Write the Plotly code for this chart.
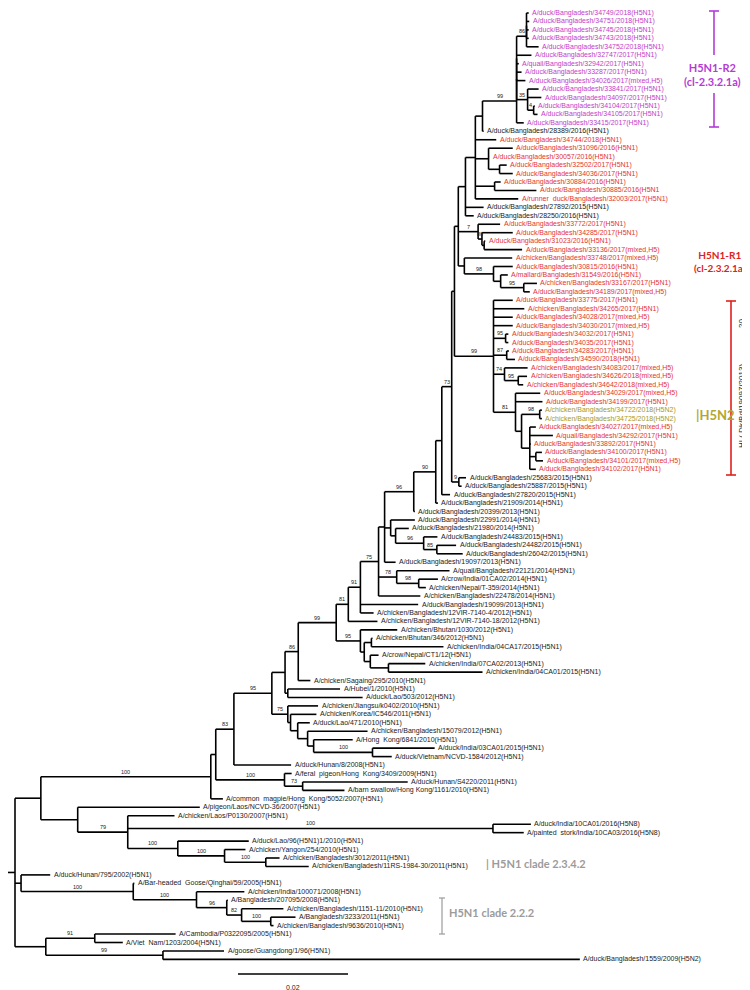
import plotly.graph_objects as go

# ---------------- data ----------------
BRANCH_UNIT = 1e-4  # Newick branch lengths below are in 1e-4 substitutions/site
SCALE_BAR = 0.02

# H5N1-R2 clade
N4 = "(t0:4,t1:5,t2:4,t3:4):0"
N518 = "(" + N4 + ",t4:22)86:18"
NTOP = "(" + N518 + ",t5:27,t6:4,t7:9,t8:16):0"
N519 = "(t9:20,t10:25,(t11:2,t12:7)4:11)35:20"
N508 = "((" + NTOP + "," + N519 + "):0,t13:13)99:62"
# H5N1-R1 upper part
N467 = "((" + N508 + ",t14:2):13,t15:38,(t16:44,t17:1,(t18:13,t19:24):20):24,(t20:11,t21:76):35,t22:78):18"
N457 = "(" + N467 + ",t23:33,t24:15):13"
N468 = "(t25:40,(t26:56,(t27:2,t28:69):4)80:7)7:36"
N456 = "(t29:87,(t30:35,(t31:13,(t32:24,t33:11)95:42):13)98:53):11"
N450 = "(" + N457 + "," + N468 + "," + N456 + "):7"
# H5N1-R1 lower part (incl. H5N2 reassortants)
H5N2 = ("(t34:35,t35:56,t36:35,t37:35,(t38:5,t39:5)95:22,(t40:4,t41:15)87:24,(t42:42,(t43:16,t44:9)95:25)74:20,"
        "(t45:45,t46:49,((t47:4,t48:4)98:33,(t49:11,t50:42,t51:2,(t52:11,t53:13):11,t54:11):15):11)81:40)99:71")
N445 = "(" + N450 + "," + H5N2 + "):5"
N446 = "(" + N445 + ",(t55:13,t56:5)9:13)73:18"
N433 = "(" + N446 + ",t57:15):11"
N427 = "(" + N433 + ",t58:4)90:40"
N405 = "(" + N427 + ",t59:2)96:53"
N376 = "(" + N405 + ",(t60:44,(t61:24,(t62:25,(t63:35,t64:47)85:24)96:51):9):11,t65:20):11"
N370 = "(" + N376 + ",(t66:96,(t67:35,t68:13)98:40)78:33,t69:76)75:33"
N352 = "(" + N370 + ",t70:105,t71:24)91:22"
N340 = "(" + N352 + ",t72:53)81:22"
BHUTAN = "(t73:67,((t74:2,t75:131):13,(t76:15,(t77:67,t78:171):33):11):7)95:44"
N290 = "((" + N340 + "," + BHUTAN + ")99:69,t79:22)86:24"
N277 = "(" + N290 + ",(t80:95,t81:136):5):24"
N280 = "(t82:55,(t83:47,(t84:22,(t85:109,(t86:71,(t87:113,t88:35)100:107):11):18):13):5)75:29"
N226 = "((" + N277 + "," + N280 + ")95:69,t89:104)83:33"
N277F = "(t90:13,(t91:191,t92:76)73:33)100:125"
N203 = "((" + N226 + "," + N277F + "):9,t93:22)100:309"
N70 = "(t94:222,(t95:85,(t96:69,t97:56)100:664,(t98:129,(t99:38,(t100:25,t101:78)100:75)100:85)100:91)79:91):67"
N13 = "(t102:53,(t103:2,(t104:87,(t105:2,(t106:76,(t107:45,t108:5)100:53)82:27)96:55)100:115)100:204):11"
N38 = "((t109:147,t110:51)91:89,(t111:111,t112:758)99:213):56"
NEWICK = "((" + N203 + "," + N70 + "):47," + N13 + "," + N38 + "):13;"

LEAF_NAMES = [
    "A/duck/Bangladesh/34749/2018(H5N1)", "A/duck/Bangladesh/34751/2018(H5N1)",
    "A/duck/Bangladesh/34745/2018(H5N1)", "A/duck/Bangladesh/34743/2018(H5N1)",
    "A/duck/Bangladesh/34752/2018(H5N1)", "A/duck/Bangladesh/32747/2017(H5N1)",
    "A/quail/Bangladesh/32942/2017(H5N1)", "A/duck/Bangladesh/33287/2017(H5N1)",
    "A/duck/Bangladesh/34026/2017(mixed,H5)", "A/duck/Bangladesh/33841/2017(H5N1)",
    "A/duck/Bangladesh/34097/2017(H5N1)", "A/duck/Bangladesh/34104/2017(H5N1)",
    "A/duck/Bangladesh/34105/2017(H5N1)", "A/duck/Bangladesh/33415/2017(H5N1)",
    "A/duck/Bangladesh/28389/2016(H5N1)", "A/duck/Bangladesh/34744/2018(H5N1)",
    "A/duck/Bangladesh/31096/2016(H5N1)", "A/duck/Bangladesh/30057/2016(H5N1)",
    "A/duck/Bangladesh/32502/2017(H5N1)", "A/duck/Bangladesh/34036/2017(H5N1)",
    "A/duck/Bangladesh/30884/2016(H5N1)", "A/duck/Bangladesh/30885/2016(H5N1",
    "A/runner  duck/Bangladesh/32003/2017(H5N1)", "A/duck/Bangladesh/27892/2015(H5N1)",
    "A/duck/Bangladesh/28250/2016(H5N1)", "A/duck/Bangladesh/33772/2017(H5N1)",
    "A/duck/Bangladesh/34285/2017(H5N1)", "A/duck/Bangladesh/31023/2016(H5N1)",
    "A/duck/Bangladesh/33136/2017(mixed,H5)", "A/chicken/Bangladesh/33748/2017(mixed,H5)",
    "A/duck/Bangladesh/30815/2016(H5N1)", "A/mallard/Bangladesh/31549/2016(H5N1)",
    "A/chicken/Bangladesh/33167/2017(H5N1)", "A/duck/Bangladesh/34189/2017(mixed,H5)",
    "A/duck/Bangladesh/33775/2017(H5N1)", "A/chicken/Bangladesh/34265/2017(H5N1)",
    "A/duck/Bangladesh/34028/2017(mixed,H5)", "A/duck/Bangladesh/34030/2017(mixed,H5)",
    "A/duck/Bangladesh/34032/2017(H5N1)", "A/duck/Bangladesh/34035/2017(H5N1)",
    "A/duck/Bangladesh/34283/2017(H5N1)", "A/duck/Bangladesh/34590/2018(H5N1)",
    "A/chicken/Bangladesh/34083/2017(mixed,H5)", "A/chicken/Bangladesh/34626/2018(mixed,H5)",
    "A/chicken/Bangladesh/34642/2018(mixed,H5)", "A/duck/Bangladesh/34029/2017(mixed,H5)",
    "A/duck/Bangladesh/34199/2017(H5N1)", "A/chicken/Bangladesh/34722/2018(H5N2)",
    "A/chicken/Bangladesh/34725/2018(H5N2)", "A/duck/Bangladesh/34027/2017(mixed,H5)",
    "A/quail/Bangladesh/34292/2017(H5N1)", "A/duck/Bangladesh/33892/2017(H5N1)",
    "A/duck/Bangladesh/34100/2017(H5N1)", "A/duck/Bangladesh/34101/2017(mixed,H5)",
    "A/duck/Bangladesh/34102/2017(H5N1)", "A/duck/Bangladesh/25683/2015(H5N1)",
    "A/duck/Bangladesh/25887/2015(H5N1)", "A/duck/Bangladesh/27820/2015(H5N1)",
    "A/duck/Bangladesh/21909/2014(H5N1)", "A/duck/Bangladesh/20399/2013(H5N1)",
    "A/duck/Bangladesh/22991/2014(H5N1)", "A/duck/Bangladesh/21980/2014(H5N1)",
    "A/duck/Bangladesh/24483/2015(H5N1)", "A/duck/Bangladesh/24482/2015(H5N1)",
    "A/duck/Bangladesh/26042/2015(H5N1)", "A/duck/Bangladesh/19097/2013(H5N1)",
    "A/quail/Bangladesh/22121/2014(H5N1)", "A/crow/India/01CA02/2014(H5N1)",
    "A/chicken/Nepal/T-359/2014(H5N1)", "A/chicken/Bangladesh/22478/2014(H5N1)",
    "A/duck/Bangladesh/19099/2013(H5N1)", "A/chicken/Bangladesh/12VIR-7140-4/2012(H5N1)",
    "A/chicken/Bangladesh/12VIR-7140-18/2012(H5N1)", "A/chicken/Bhutan/1030/2012(H5N1)",
    "A/chicken/Bhutan/346/2012(H5N1)", "A/chicken/India/04CA17/2015(H5N1)",
    "A/crow/Nepal/CT1/12(H5N1)", "A/chicken/India/07CA02/2013(H5N1)",
    "A/chicken/India/04CA01/2015(H5N1)", "A/chicken/Sagaing/295/2010(H5N1)",
    "A/Hubei/1/2010(H5N1)", "A/duck/Lao/503/2012(H5N1)",
    "A/chicken/Jiangsu/k0402/2010(H5N1)", "A/chicken/Korea/IC546/2011(H5N1)",
    "A/duck/Lao/471/2010(H5N1)", "A/chicken/Bangladesh/15079/2012(H5N1)",
    "A/Hong  Kong/6841/2010(H5N1)", "A/duck/India/03CA01/2015(H5N1)",
    "A/duck/Vietnam/NCVD-1584/2012(H5N1)", "A/duck/Hunan/8/2008(H5N1)",
    "A/feral  pigeon/Hong  Kong/3409/2009(H5N1)", "A/duck/Hunan/S4220/2011(H5N1)",
    "A/barn swallow/Hong Kong/1161/2010(H5N1)", "A/common  magpie/Hong  Kong/5052/2007(H5N1)",
    "A/pigeon/Laos/NCVD-36/2007(H5N1)", "A/chicken/Laos/P0130/2007(H5N1)",
    "A/duck/India/10CA01/2016(H5N8)", "A/painted  stork/India/10CA03/2016(H5N8)",
    "A/duck/Lao/96(H5N1)1/2010(H5N1)", "A/chicken/Yangon/254/2010(H5N1)",
    "A/chicken/Bangladesh/3012/2011(H5N1)", "A/chicken/Bangladesh/11RS-1984-30/2011(H5N1)",
    "A/duck/Hunan/795/2002(H5N1)", "A/Bar-headed  Goose/Qinghai/59/2005(H5N1)",
    "A/chicken/India/100071/2008(H5N1)", "A/Bangladesh/207095/2008(H5N1)",
    "A/chicken/Bangladesh/1151-11/2010(H5N1)", "A/Bangladesh/3233/2011(H5N1)",
    "A/chicken/Bangladesh/9636/2010(H5N1)", "A/Cambodia/P0322095/2005(H5N1)",
    "A/Viet  Nam/1203/2004(H5N1)", "A/goose/Guangdong/1/96(H5N1)",
    "A/duck/Bangladesh/1559/2009(H5N2)",
]
# P = H5N1-R2 (purple), R = H5N1-R1 (red), O = H5N2 (olive), K = other (black)
LEAF_GROUP = ("PPPPPPPPPPPPPP" "K" "RRRRRRRR" "KK" "RRRRRRRRRRRRRRRRRRRRRR" "OO" "RRRRRR"
              "KKKKKKKKKKKKKKKKKKKKKKKKKKKKKKKKKKKKKKKKKKKKKKKKKKKKKKKKKK")
GROUP_COLORS = {"P": "#c33cc8", "R": "#e3342f", "O": "#a39a2c", "K": "#1a1a1a"}

# ---------------- parse tree ----------------
def parse_newick(s):
    pos = 0

    def read_token(stops):
        nonlocal pos
        start = pos
        while s[pos] not in stops:
            pos += 1
        return s[start:pos]

    def node():
        nonlocal pos
        n = {"children": [], "name": "", "label": "", "len": 0.0}
        if s[pos] == "(":
            pos += 1
            while True:
                n["children"].append(node())
                if s[pos] == ",":
                    pos += 1
                    continue
                pos += 1  # ')'
                break
            n["label"] = read_token(":,);")
        else:
            n["name"] = read_token(":,);")
        if s[pos] == ":":
            pos += 1
            n["len"] = float(read_token(",);")) * BRANCH_UNIT
        return n

    return node()


tree = parse_newick(NEWICK)
leaf_counter = [0]


def layout(n, x_parent):
    n["xp"] = x_parent
    n["x"] = x_parent + n["len"]
    if n["children"]:
        for c in n["children"]:
            layout(c, n["x"])
        n["y"] = (n["children"][0]["y"] + n["children"][-1]["y"]) / 2
    else:
        n["y"] = leaf_counter[0]
        leaf_counter[0] += 1


layout(tree, -tree["len"])

xs, ys, annotations = [], [], []


def walk(n):
    if n["len"] > 0:
        xs.extend([n["xp"], n["x"], None])
        ys.extend([n["y"], n["y"], None])
    if n["children"]:
        xs.extend([n["x"], n["x"], None])
        ys.extend([n["children"][0]["y"], n["children"][-1]["y"], None])
        if n["label"]:
            annotations.append(dict(x=(n["xp"] + n["x"]) / 2, y=n["y"], text=n["label"],
                                    showarrow=False, xanchor="center", yanchor="bottom",
                                    font=dict(size=5.5, color="#222", family="Liberation Sans")))
        for c in n["children"]:
            walk(c)
    else:
        i = int(n["name"][1:])
        annotations.append(dict(x=n["x"], y=n["y"], text=LEAF_NAMES[i], showarrow=False,
                                xanchor="left", yanchor="middle", xshift=1.5,
                                font=dict(size=7, color=GROUP_COLORS[LEAF_GROUP[i]],
                                          family="Liberation Sans")))


walk(tree)

# ---------------- figure ----------------
W, H = 750, 990
PX_PER_UNIT = 110 / SCALE_BAR
ROOT_PX = 7
LEAF_TOP, LEAF_STEP = 5, 8.45


def px2x(px):
    return (px - ROOT_PX) / PX_PER_UNIT


def py2y(py):
    return (py - LEAF_TOP) / LEAF_STEP


fig = go.Figure()
fig.add_trace(go.Scatter(x=xs, y=ys, mode="lines", line=dict(color="black", width=1.6),
                         hoverinfo="skip", showlegend=False))

# scale bar
sb_x0 = px2x(230)
fig.add_trace(go.Scatter(x=[sb_x0, sb_x0 + SCALE_BAR], y=[py2y(966), py2y(966)], mode="lines",
                         line=dict(color="black", width=1.6), hoverinfo="skip", showlegend=False))
annotations.append(dict(x=sb_x0 + SCALE_BAR / 2, y=py2y(979), text="0.02", showarrow=False,
                        font=dict(size=7, color="#222", family="Liberation Sans")))

shapes = []


def bracket(xpx, y0, y1, color, gap=None, cap=5, width=1.6):
    x = px2x(xpx)
    dx = cap / PX_PER_UNIT
    segs = [(y0, y1)] if gap is None else [(y0, gap[0]), (gap[1], y1)]
    for a, b in segs:
        shapes.append(dict(type="line", x0=x, x1=x, y0=a, y1=b, line=dict(color=color, width=width)))
    for yy in (y0, y1):
        shapes.append(dict(type="line", x0=x - dx, x1=x + dx, y0=yy, y1=yy, line=dict(color=color, width=width)))


PURPLE, RED, OLIVE, GREY = "#b53bd6", "#e0201b", "#b3a733", "#9b9b9b"
bracket(706, py2y(3), py2y(119), PURPLE, gap=(py2y(47), py2y(85)))
annotations.append(dict(x=px2x(704), y=py2y(66), text="<b>H5N1-R2<br>(cl-2.3.2.1a)</b>", showarrow=False,
                        xanchor="center", font=dict(size=11, color=PURPLE, family="Lato")))
bracket(742, py2y(119), py2y(467), RED, gap=(py2y(232), py2y(274)))
annotations.append(dict(x=px2x(712), y=py2y(253), text="<b>H5N1-R1<br>(cl-2.3.2.1a)</b>", showarrow=False,
                        xanchor="center", align="center",
                        font=dict(size=10, color=RED, family="Lato")))
bracket(723, py2y(293), py2y(467), RED)
annotations.append(dict(x=px2x(733), y=py2y(398), text="HI ( Dk/Bd/19097/2013)", showarrow=False,
                        textangle=-90, font=dict(size=8, color="#222", family="Liberation Sans")))
annotations.append(dict(x=px2x(733), y=py2y(316), text="20", showarrow=False,
                        textangle=-90, font=dict(size=8, color="#222", family="Liberation Sans")))
annotations.append(dict(x=px2x(686), y=py2y(407), text="<b>|H5N2</b>", showarrow=False, xanchor="left",
                        font=dict(size=13, color=OLIVE, family="Lato")))
annotations.append(dict(x=px2x(476), y=py2y(855), text="<b>| H5N1 clade 2.3.4.2</b>", showarrow=False,
                        xanchor="left", font=dict(size=11, color=GREY, family="Lato")))
bracket(434, py2y(890), py2y(926), GREY, cap=3, width=1.2)
annotations.append(dict(x=px2x(439), y=py2y(904), text="<b>H5N1 clade 2.2.2</b>", showarrow=False,
                        xanchor="left", font=dict(size=11, color=GREY, family="Lato")))

fig.update_layout(
    width=W, height=H, margin=dict(l=0, r=0, t=0, b=0),
    paper_bgcolor="white", plot_bgcolor="white",
    xaxis=dict(range=[px2x(0), px2x(W)], visible=False, fixedrange=True),
    yaxis=dict(range=[py2y(H), py2y(0)], visible=False, fixedrange=True),
    annotations=annotations, shapes=shapes, showlegend=False,
)
fig.write_html("out.html")
